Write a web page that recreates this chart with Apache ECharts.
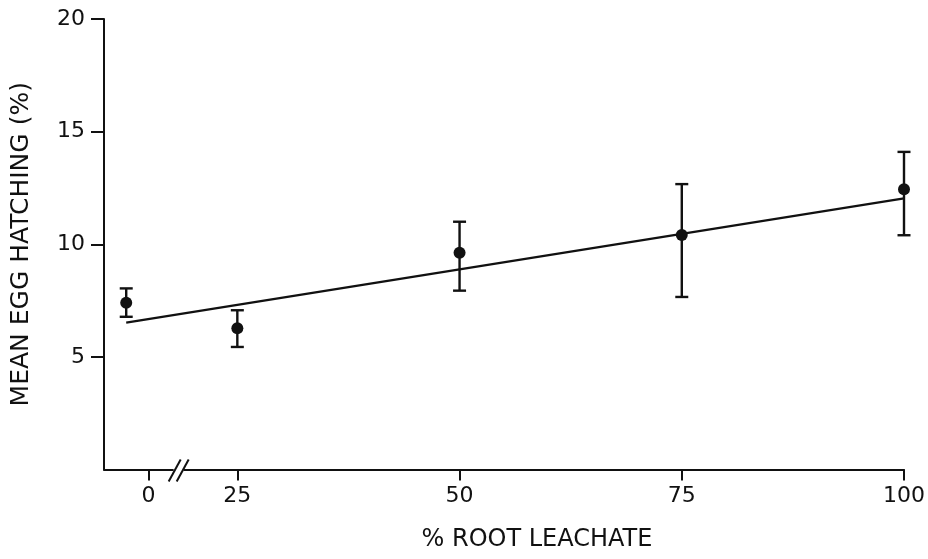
<!DOCTYPE html>
<html>
<head>
<meta charset="utf-8">
<title>Egg hatching vs root leachate</title>
<script src="https://cdn.jsdelivr.net/npm/echarts@6/dist/echarts.min.js"></script>
<style>
  html, body { margin: 0; padding: 0; background: #fff; }
  #main { width: 928px; height: 559px; }
</style>
</head>
<body>
<div id="main"></div>
<script>
/* data */
var leachatePct = [0, 25, 50, 75, 100]
var meanHatch = [7.40, 6.27, 9.62, 10.41, 12.44]
var errLow = [6.78, 5.44, 7.94, 7.66, 10.40]
var errHigh = [8.04, 7.07, 11.0, 12.67, 14.10]
// fitted line, ends at 0 % and 100 %
var fitPct = [0, 100]
var fitHatch = [6.52, 12.04]
var xTickLabels = ['0', '25', '50', '75', '100']
var yTickValues = [5, 10, 15, 20]

/* broken x axis: 0 % sits left of the break */
var ZERO_TICK_POS = 15
var ZERO_PLOT_POS = 12.5
var BREAK_POS = 18.4
function plotPos(p) { return p === 0 ? ZERO_PLOT_POS : p }
function tickPos(p) { return p === 0 ? ZERO_TICK_POS : p }

var xTickValues = leachatePct.map(tickPos)
var ink = '#111'
var font = 'DejaVu Sans'

var chart = echarts.init(document.getElementById('main'))

var option = {
  animation: false,
  grid: { left: 104, right: 24, top: 19, bottom: 89.5 },
  xAxis: {
    type: 'value',
    min: 10,
    max: 100,
    name: '% ROOT LEACHATE',
    nameLocation: 'middle',
    nameGap: 58,
    nameTextStyle: { color: ink, fontFamily: font, fontSize: 24, padding: [0, 0, 0, 66] },
    axisLine: { lineStyle: { color: ink, width: 2 } },
    axisTick: { customValues: xTickValues, length: 11, lineStyle: { color: ink, width: 2 } },
    axisLabel: {
      customValues: xTickValues,
      margin: 16,
      color: ink,
      fontFamily: font,
      fontSize: 22,
      formatter: function (v) { return xTickLabels[xTickValues.indexOf(v)] }
    },
    splitLine: { show: false }
  },
  yAxis: {
    type: 'value',
    min: 0,
    max: 20,
    interval: 5,
    name: 'MEAN EGG HATCHING (%)',
    nameLocation: 'middle',
    nameGap: 70,
    nameTextStyle: { color: ink, fontFamily: font, fontSize: 25 },
    axisLine: { show: true, lineStyle: { color: ink, width: 2 } },
    axisTick: { customValues: yTickValues, length: 13, lineStyle: { color: ink, width: 2 } },
    axisLabel: { customValues: yTickValues, margin: 19, color: ink, fontFamily: font, fontSize: 22 },
    splitLine: { show: false }
  },
  series: [
    {
      type: 'line',
      data: fitPct.map(function (p, i) { return [plotPos(p), fitHatch[i]] }),
      showSymbol: false,
      lineStyle: { color: ink, width: 2.2 },
      z: 2
    },
    {
      type: 'custom',
      data: leachatePct.map(function (p, i) { return [plotPos(p), errLow[i], errHigh[i]] }),
      renderItem: function (params, api) {
        var x = api.value(0)
        var lo = api.coord([x, api.value(1)])
        var hi = api.coord([x, api.value(2)])
        var cap = 6.5
        var st = { stroke: ink, lineWidth: 2.4 }
        return {
          type: 'group',
          children: [
            { type: 'line', shape: { x1: lo[0], y1: lo[1], x2: hi[0], y2: hi[1] }, style: st },
            { type: 'line', shape: { x1: hi[0] - cap, y1: hi[1], x2: hi[0] + cap, y2: hi[1] }, style: st },
            { type: 'line', shape: { x1: lo[0] - cap, y1: lo[1], x2: lo[0] + cap, y2: lo[1] }, style: st }
          ]
        }
      },
      z: 3
    },
    {
      type: 'scatter',
      data: leachatePct.map(function (p, i) { return [plotPos(p), meanHatch[i]] }),
      symbol: 'circle',
      symbolSize: 12,
      itemStyle: { color: ink, opacity: 1 },
      z: 4
    }
  ]
}
chart.setOption(option)

/* the // break mark on the x axis */
var bx = chart.convertToPixel({ xAxisIndex: 0 }, BREAK_POS)
var by = chart.convertToPixel({ yAxisIndex: 0 }, 0)
chart.setOption({
  graphic: [
    { type: 'rect', shape: { x: bx - 5, y: by - 4, width: 10, height: 8 }, style: { fill: '#fff' }, z: 10 },
    { type: 'line', shape: { x1: bx - 10, y1: by + 12, x2: bx + 2, y2: by - 10 }, style: { stroke: ink, lineWidth: 2 }, z: 11 },
    { type: 'line', shape: { x1: bx - 2, y1: by + 12, x2: bx + 10, y2: by - 10 }, style: { stroke: ink, lineWidth: 2 }, z: 11 }
  ]
})
</script>
</body>
</html>
